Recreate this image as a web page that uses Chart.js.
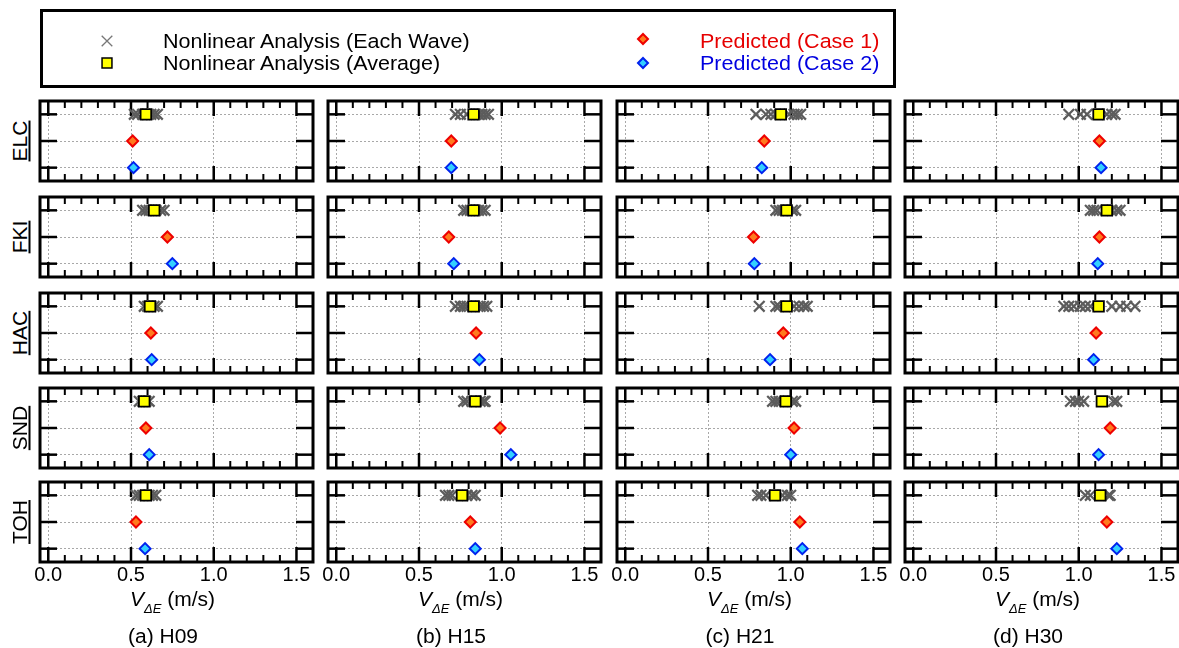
<!DOCTYPE html>
<html><head><meta charset="utf-8">
<script src="https://cdn.jsdelivr.net/npm/chart.js@4.4.0/dist/chart.umd.min.js"></script>
<style>
body{margin:0;background:#fff;}
#wrap{position:relative;width:1179px;height:648px;overflow:hidden;background:#fff;font-family:'Liberation Sans',Arial,sans-serif;color:#000;}
#wrap canvas{position:absolute;}
.t{position:absolute;white-space:nowrap;}
</style></head><body><div id="wrap"></div>
<script>
// ---------------- data ----------------
const sites = ['ELC', 'FKI', 'HAC', 'SND', 'TOH'];
const caseTitles = ['(a) H09', '(b) H15', '(c) H21', '(d) H30'];
const xTickValues = [0.0, 0.5, 1.0, 1.5];
const rowLevels = [1, 2, 3]; // each wave / average, case 1, case 2

const eachWaveH09 = [
  [0.52, 0.54, 0.57, 0.60, 0.62, 0.64, 0.66],
  [0.57, 0.59, 0.61, 0.65, 0.68, 0.70],
  [0.58, 0.60, 0.62, 0.64, 0.66],
  [0.55, 0.57, 0.59, 0.61],
  [0.53, 0.55, 0.57, 0.61, 0.63, 0.65]
];
const averageH09 = [0.59, 0.64, 0.615, 0.58, 0.59];
const case1H09 = [0.51, 0.72, 0.62, 0.59, 0.53];
const case2H09 = [0.515, 0.75, 0.625, 0.61, 0.585];

const eachWaveH15 = [
  [0.72, 0.75, 0.79, 0.86, 0.88, 0.90, 0.92],
  [0.77, 0.79, 0.81, 0.86, 0.88, 0.90],
  [0.72, 0.75, 0.77, 0.79, 0.87, 0.89, 0.91],
  [0.77, 0.79, 0.82, 0.87, 0.89, 0.90],
  [0.66, 0.68, 0.70, 0.79, 0.82, 0.84]
];
const averageH15 = [0.83, 0.83, 0.83, 0.84, 0.76];
const case1H15 = [0.695, 0.68, 0.845, 0.99, 0.81];
const case2H15 = [0.695, 0.71, 0.865, 1.055, 0.84];

const eachWaveH21 = [
  [0.79, 0.85, 0.88, 0.91, 0.99, 1.02, 1.04, 1.06],
  [0.91, 0.93, 0.95, 1.01, 1.03],
  [0.81, 0.91, 0.93, 1.02, 1.05, 1.08, 1.10],
  [0.89, 0.91, 0.93, 1.01, 1.03],
  [0.80, 0.82, 0.85, 0.95, 0.98, 1.00]
];
const averageH21 = [0.94, 0.975, 0.975, 0.97, 0.905];
const case1H21 = [0.84, 0.775, 0.955, 1.02, 1.055];
const case2H21 = [0.825, 0.78, 0.875, 1.0, 1.07];

const eachWaveH30 = [
  [0.94, 1.01, 1.05, 1.17, 1.20, 1.22],
  [1.07, 1.09, 1.11, 1.20, 1.23, 1.25],
  [0.91, 0.94, 0.97, 1.01, 1.04, 1.07, 1.20, 1.25, 1.29, 1.34],
  [0.95, 0.98, 1.00, 1.03, 1.21, 1.23],
  [1.04, 1.07, 1.18, 1.19]
];
const averageH30 = [1.12, 1.17, 1.12, 1.14, 1.13];
const case1H30 = [1.125, 1.125, 1.105, 1.19, 1.17];
const case2H30 = [1.135, 1.115, 1.09, 1.12, 1.23];

const columns = [
  { each: eachWaveH09, avg: averageH09, c1: case1H09, c2: case2H09 },
  { each: eachWaveH15, avg: averageH15, c1: case1H15, c2: case2H15 },
  { each: eachWaveH21, avg: averageH21, c1: case1H21, c2: case2H21 },
  { each: eachWaveH30, avg: averageH30, c1: case1H30, c2: case2H30 }
];

// ---------------- layout ----------------
const colLeft = [40, 328, 617, 905];
const rowTop = [101, 197, 293, 388, 482];
const PW = 273, PH = 80, PAD = 8, LABEL_H = 26;
const wrap = document.getElementById('wrap');
Chart.defaults.font.family = "'Liberation Sans', Arial, sans-serif";
Chart.defaults.color = '#000';

const frameTicks = {
  id: 'frameTicks',
  beforeDatasetsDraw(chart) {
    const { ctx, chartArea: a, scales: { x, y } } = chart;
    ctx.save();
    ctx.strokeStyle = '#000';
    ctx.lineCap = 'butt';
    const ln = (x1, y1, x2, y2) => { ctx.beginPath(); ctx.moveTo(x1, y1); ctx.lineTo(x2, y2); ctx.stroke(); };
    for (let i = 0; i < 16; i++) {
      const v = i / 10;
      const px = x.getPixelForValue(v);
      const major = i % 5 === 0;
      const len = major ? 15 : 7;
      ctx.lineWidth = major ? 2.5 : 2;
      ln(px, a.top, px, a.top + len);
      ln(px, a.bottom, px, a.bottom - len);
    }
    ctx.lineWidth = 2.5;
    rowLevels.forEach(v => {
      const py = y.getPixelForValue(v);
      ln(a.left, py, a.left + 17, py);
      ln(a.right, py, a.right - 17, py);
    });
    ctx.restore();
  },
  afterDatasetsDraw(chart) {
    const { ctx, chartArea: a } = chart;
    ctx.save();
    ctx.strokeStyle = '#000';
    ctx.lineWidth = 3;
    ctx.strokeRect(a.left, a.top, a.right - a.left, a.bottom - a.top);
    ctx.restore();
  }
};

function makePanel(c, r) {
  const bottom = r === sites.length - 1;
  const cv = document.createElement('canvas');
  const w = PW + 2 * PAD, h = PH + PAD + (bottom ? LABEL_H : PAD);
  cv.width = w; cv.height = h;
  cv.style.left = (colLeft[c] - PAD) + 'px';
  cv.style.top = (rowTop[r] - PAD) + 'px';
  cv.style.width = w + 'px'; cv.style.height = h + 'px';
  wrap.appendChild(cv);
  const col = columns[c];
  new Chart(cv, {
    type: 'scatter',
    data: {
      datasets: [
        { label: 'Nonlinear Analysis (Average)', data: [{ x: col.avg[r], y: rowLevels[0] }], pointStyle: 'rect', radius: 7.5, backgroundColor: '#ffff00', borderColor: '#000', borderWidth: 1.8, order: 0 },
        { label: 'Nonlinear Analysis (Each Wave)', data: col.each[r].map(v => ({ x: v, y: rowLevels[0] })), pointStyle: 'crossRot', radius: 7.5, borderColor: '#5c5c5c', borderWidth: 2.2, order: 3 },
        { label: 'Predicted (Case 1)', data: [{ x: col.c1[r], y: rowLevels[1] }], pointStyle: 'rectRot', radius: 5.5, backgroundColor: '#ff7a1e', borderColor: '#ee0000', borderWidth: 2, order: 1 },
        { label: 'Predicted (Case 2)', data: [{ x: col.c2[r], y: rowLevels[2] }], pointStyle: 'rectRot', radius: 5.5, backgroundColor: '#33d0ff', borderColor: '#0022ee', borderWidth: 2, order: 2 }
      ]
    },
    options: {
      responsive: false, animation: false, events: [],
      layout: { padding: { left: PAD, right: PAD, top: PAD, bottom: bottom ? 0 : PAD }, autoPadding: false },
      plugins: { legend: { display: false }, tooltip: { enabled: false } },
      scales: {
        x: {
          type: 'linear', min: -0.05, max: 1.6,
          afterBuildTicks: s => { s.ticks = xTickValues.map(v => ({ value: v })); },
          afterFit: s => { s.height = bottom ? LABEL_H : 0; },
          ticks: { display: bottom, autoSkip: false, maxRotation: 0, padding: 1, font: { size: 20 }, color: '#000', callback: v => Number(v).toFixed(1) },
          grid: { color: '#a8a8a8', lineWidth: 1, drawTicks: false },
          border: { display: false, dash: [2, 2] }
        },
        y: {
          type: 'linear', min: 0.5, max: 3.5, reverse: true,
          afterBuildTicks: s => { s.ticks = rowLevels.map(v => ({ value: v })); },
          afterFit: s => { s.width = 0; },
          ticks: { display: false },
          grid: { color: '#a8a8a8', lineWidth: 1, drawTicks: false },
          border: { display: false, dash: [2, 2] }
        }
      }
    },
    plugins: [frameTicks]
  });
}

for (let c = 0; c < columns.length; c++)
  for (let r = 0; r < sites.length; r++) makePanel(c, r);

function addText(html, cx, cy, style) {
  const d = document.createElement('div');
  d.className = 't';
  d.innerHTML = html;
  d.style.cssText += style;
  d.style.left = cx + 'px';
  d.style.top = cy + 'px';
  wrap.appendChild(d);
  return d;
}

// row labels
sites.forEach((s, r) => {
  addText(s, 19, rowTop[r] + PH / 2,
    'font-size:21px;line-height:21px;text-decoration:underline;text-decoration-thickness:1.5px;text-underline-offset:2px;transform:translate(-50%,-50%) rotate(-90deg);');
});

// axis titles & captions
caseTitles.forEach((t, c) => {
  const cx = colLeft[c] + PW / 2;
  addText('<i>V</i><i style="font-size:13px;position:relative;top:7px;">ΔE</i> (m/s)', cx - 4, 600,
    'font-size:21px;line-height:21px;transform:translate(-50%,-50%);');
  addText(t, cx - 14, 636, 'font-size:20px;line-height:20px;transform:translate(-50%,-50%) scaleX(1.05);');
});

// legend box
const box = document.createElement('div');
box.style.cssText = 'position:absolute;left:40px;top:9px;width:856px;height:79px;box-sizing:border-box;border:3px solid #000;';
wrap.appendChild(box);
const lg = document.createElement('canvas');
lg.width = 1179; lg.height = 100;
lg.style.left = '0px'; lg.style.top = '0px';
wrap.appendChild(lg);
const lctx = lg.getContext('2d');
function mark(style, x, y, r, fill, stroke, lw) {
  lctx.save();
  lctx.fillStyle = fill; lctx.strokeStyle = stroke; lctx.lineWidth = lw;
  if (Chart.helpers && Chart.helpers.drawPoint) {
    Chart.helpers.drawPoint(lctx, { pointStyle: style, radius: r, rotation: 0, borderWidth: lw }, x, y);
  }
  lctx.restore();
}
mark('crossRot', 107, 41, 7.5, '#777', '#777', 1.3);
mark('rect', 107, 63, 7, '#ffff00', '#000', 1.5);
mark('rectRot', 643, 39, 5, '#ff7a1e', '#ee0000', 2);
mark('rectRot', 643, 63, 5, '#33d0ff', '#0022ee', 2);

const legendStyle = 'font-size:20.5px;line-height:21px;transform-origin:0 50%;transform:translateY(-50%) scaleX(1.05);';
addText('Nonlinear Analysis (Each Wave)', 163, 40, legendStyle);
addText('Nonlinear Analysis (Average)', 163, 62, legendStyle);
addText('Predicted (Case 1)', 700, 40, legendStyle + 'color:#e60000;');
addText('Predicted (Case 2)', 700, 62, legendStyle + 'color:#0000e0;');
</script></body></html>
